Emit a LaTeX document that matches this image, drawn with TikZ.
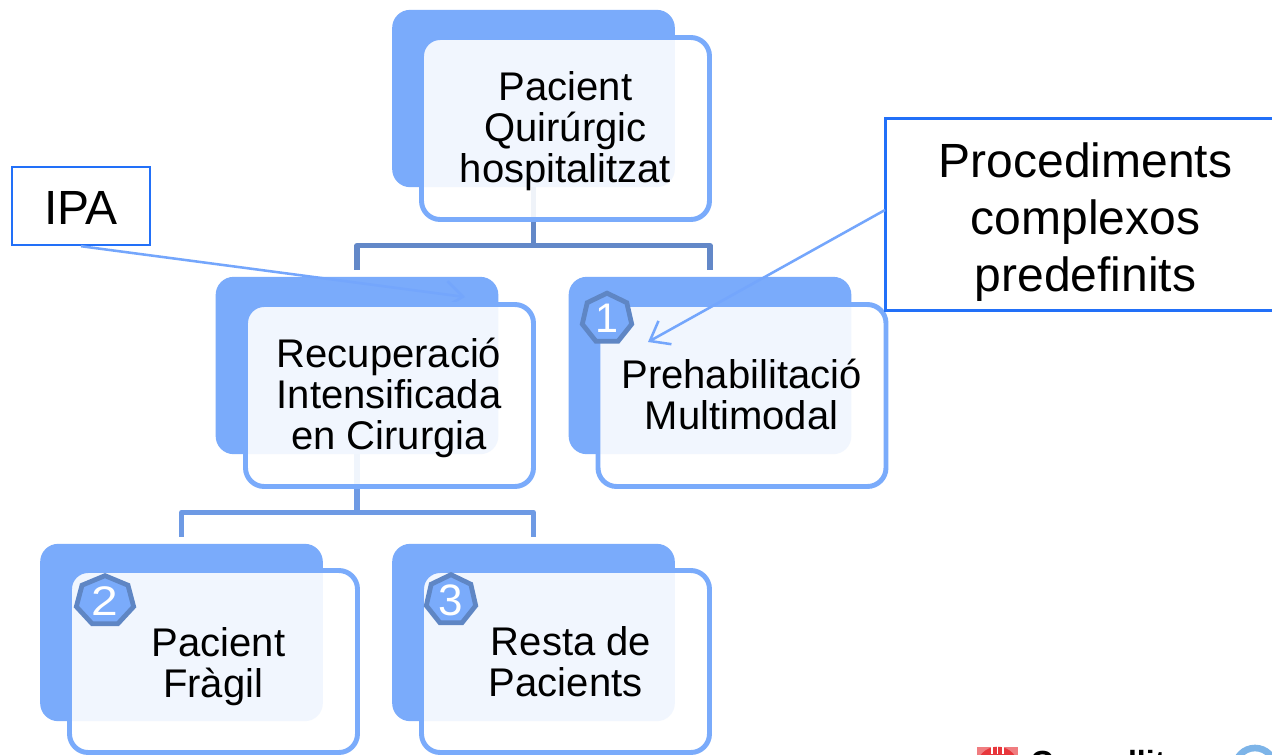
\documentclass[tikz,border=0pt]{standalone}
\usepackage{fontspec}
\setmainfont{Liberation Sans}
\usetikzlibrary{shapes.geometric,arrows.meta}
\definecolor{boxblue}{HTML}{7AABFB}
\definecolor{connA}{HTML}{6388C8}
\definecolor{connB}{HTML}{6E9AE4}
\definecolor{hept}{HTML}{5F86C4}
\definecolor{calloutline}{HTML}{2270F8}
\definecolor{callarr}{HTML}{74A6FC}
\definecolor{ringblue}{HTML}{7DB4E8}
\definecolor{logored}{HTML}{E8373C}
\tikzset{
  x=0.75pt,y=-0.75pt,
  backbox/.style={fill=boxblue,rounded corners=13.5pt,minimum width=212pt,minimum height=133pt,inner sep=0pt,anchor=center},
  frontbox/.style={draw=boxblue,line width=3.7pt,fill=white,fill opacity=0.9,draw opacity=1,rounded corners=14pt,minimum width=216pt,minimum height=136.5pt,inner sep=0pt,anchor=center},
  boxtext/.style={font=\fontsize{30pt}{30.6pt}\selectfont,align=center,text=black,inner sep=0pt},
  conn/.style={line width=3.8pt,line join=round},
  badge/.style={regular polygon,regular polygon sides=7,draw=hept,line width=3.6pt,fill=boxblue,minimum size=38pt,inner sep=0pt,text=white},
  callout/.style={draw=calloutline,fill=white,line width=1.8pt,inner sep=0pt},
  callouttext/.style={inner sep=0pt,align=center,font=\fontsize{36pt}{42.75pt}\selectfont,text=black},
  callarrow/.style={draw=callarr,line width=1.9pt,-{Straight Barb[length=13pt,width=20pt,line width=1.9pt]}},
}
\begin{document}
\begin{tikzpicture}
\useasboundingbox (0,0) rectangle (1272,754);
\clip (0,0) rectangle (1272,754);
\fill[white] (0,0) rectangle (1272,754);
% back boxes
\node[backbox] (rootb) at (533.5,98.5) {};
\node[backbox] (ricb) at (357,365.5) {};
\node[backbox] (prehb) at (710,365.5) {};
\node[backbox] (fragb) at (181.5,632.5) {};
\node[backbox] (restb) at (533.5,632.5) {};
% IPA box and its arrow
\node[callout,minimum width=103.5pt,minimum height=58.5pt] (ipa) at (81,206) {};
\node[callouttext] (ipat) at (81,208) {IPA};
\coordinate (ipatip) at (465,297);
\draw[callarrow] (ipa.south) -- (ipatip);
% connectors
\draw[conn,connA,shorten >=5pt] (rootb.south) -- ++(0,58) -| (ricb.north);
\draw[conn,connA,shorten >=5pt] (rootb.south) -- ++(0,58) -| (prehb.north);
\draw[conn,connB,shorten >=5pt] (ricb.south) -- ++(0,58) -| (fragb.north);
\draw[conn,connB,shorten >=5pt] (ricb.south) -- ++(0,58) -| (restb.north);
% front boxes
\node[frontbox] (rootf) at (565.5,128.5) {};
\node[frontbox] (ricf) at (389.5,395.5) {};
\node[frontbox] (prehf) at (742,395.5) {};
\node[frontbox] (fragf) at (213.5,661.5) {};
\node[frontbox] (restf) at (565.5,661.5) {};
% texts
\node[boxtext] (roott) at (565.5,131) {Pacient\\Quirúrgic\\hospitalitzat};
\node[boxtext] (rict) at (389,398) {Recuperació\\Intensificada\\en Cirurgia};
\node[boxtext] (preht) at (741.5,394.5) {Prehabilitació\\Multimodal};
\node[boxtext] (fragt) at (218.5,666.5) {Pacient\\Fràgil\hspace*{8pt}};
\node[boxtext] (restt) at (571,662) {Resta de\\Pacients\hspace*{8pt}};
% badges
\node[badge,font=\fontsize{31pt}{31pt}\selectfont] (b1) at (607,318.5) {1};
\node[badge,font=\fontsize{31pt}{31pt}\selectfont,xscale=1.16,transform shape] (b2) at (105,601) {2};
\node[badge,font=\fontsize{33pt}{33pt}\selectfont] (b3) at (451,600) {3};
% callout
\node[callout,minimum width=300pt,minimum height=144pt] (proc) at (1085.5,214.5) {};
\node[callouttext] (proct) at (1085.5,222) {Procediments\\complexos\\predefinits};
\coordinate (proctail) at (885,210);
\coordinate (proctip) at (648,342);
\draw[callarrow] (proctail) -- (proctip);
% logo and footer, cut off by the page edge
\node[fill=logored!65,minimum width=31pt,minimum height=30pt,inner sep=0pt,anchor=north] (logo) at (997.5,747) {};
\fill[logored] (997.5,768) circle[radius=16pt];
\foreach \xx in {992,997.5,1003} \draw[white,line width=1pt] (\xx,746) -- (\xx,754);
\node[font=\bfseries\fontsize{24pt}{24pt}\selectfont,anchor=base west,inner sep=0pt,text=black] (foot) at (1030,773) {Consellit};
\node[circle,draw=ringblue,line width=5pt,minimum size=30pt,inner sep=0pt] (ring) at (1255,768) {};
\end{tikzpicture}
\end{document}
